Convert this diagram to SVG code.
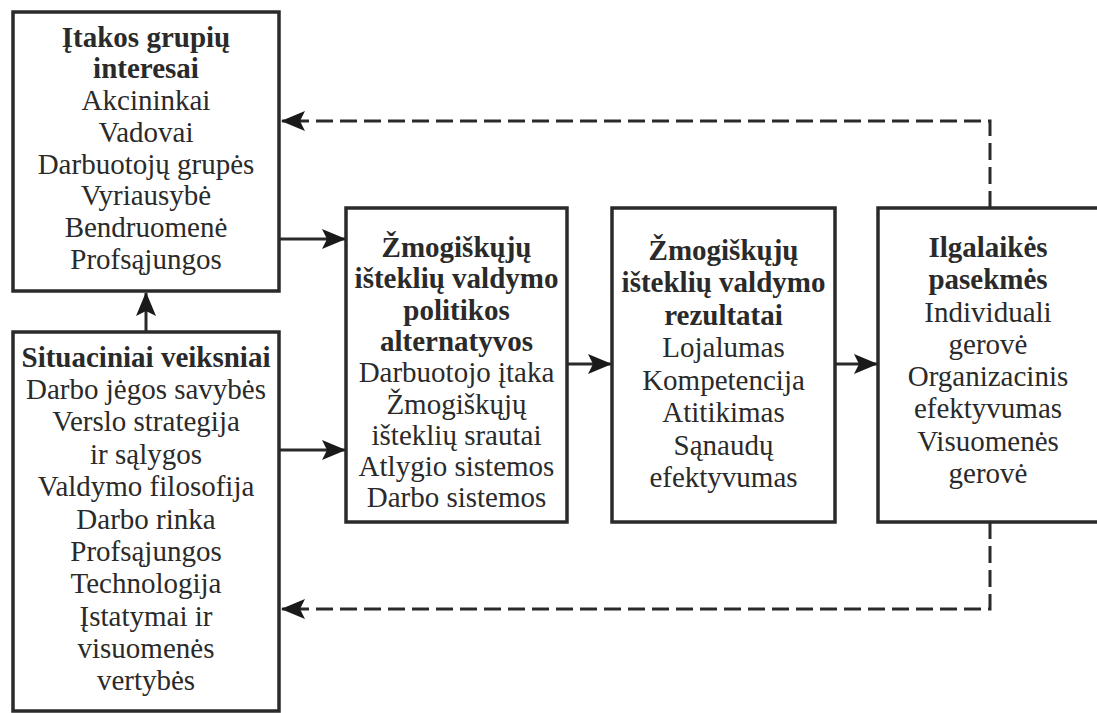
<svg xmlns="http://www.w3.org/2000/svg" width="1097" height="713" viewBox="0 0 1097 713">
<style>
.box{fill:#fff;stroke:#2a2a2a;stroke-width:3.5}
text{font-family:"Liberation Serif","Times New Roman",serif;font-size:29px;fill:#2a2a2a;text-anchor:middle}
.b{font-weight:bold}
.c{fill:none;stroke:#2a2a2a;stroke-width:3}
.d{stroke-dasharray:17 7}
</style>
<defs>
<marker id="ah" markerUnits="userSpaceOnUse" markerWidth="26" markerHeight="22" refX="23" refY="10" orient="auto">
<path d="M0,0 L24,10 L0,20 L5,10 z" fill="#1a1a1a"/>
</marker>
</defs>
<g id="connectors">
<path class="c" d="M146,332 L146,293" marker-end="url(#ah)"/>
<path class="c" d="M279,239 L345,239" marker-end="url(#ah)"/>
<path class="c" d="M279,450 L345,450" marker-end="url(#ah)"/>
<path class="c" d="M567,364 L611,364" marker-end="url(#ah)"/>
<path class="c" d="M835,364 L877,364" marker-end="url(#ah)"/>
<path class="c d" d="M990,208 L990,121 L282,121" marker-end="url(#ah)"/>
<path class="c d" d="M990,522 L990,609 L282,609" marker-end="url(#ah)"/>
</g>
<g id="influence">
<rect class="box" x="13" y="12" width="266" height="279"/>
<text class="b" x="146" y="47">Įtakos grupių</text>
<text class="b" x="146" y="78">interesai</text>
<text x="146" y="110">Akcininkai</text>
<text x="146" y="142">Vadovai</text>
<text x="146" y="174">Darbuotojų grupės</text>
<text x="146" y="205">Vyriausybė</text>
<text x="146" y="237">Bendruomenė</text>
<text x="146" y="269">Profsąjungos</text>
</g>
<g id="situational">
<rect class="box" x="13" y="332" width="266" height="379"/>
<text class="b" x="146" y="367">Situaciniai veiksniai</text>
<text x="146" y="399">Darbo jėgos savybės</text>
<text x="146" y="431">Verslo strategija</text>
<text x="146" y="464">ir sąlygos</text>
<text x="146" y="496">Valdymo filosofija</text>
<text x="146" y="529">Darbo rinka</text>
<text x="146" y="561">Profsąjungos</text>
<text x="146" y="593">Technologija</text>
<text x="146" y="626">Įstatymai ir</text>
<text x="146" y="658">visuomenės</text>
<text x="146" y="690">vertybės</text>
</g>
<g id="policy">
<rect class="box" x="346" y="208" width="221" height="314"/>
<text class="b" x="456.5" y="257">Žmogiškųjų</text>
<text class="b" x="456.5" y="288">išteklių valdymo</text>
<text class="b" x="456.5" y="320">politikos</text>
<text class="b" x="456.5" y="351">alternatyvos</text>
<text x="456.5" y="382">Darbuotojo įtaka</text>
<text x="456.5" y="414">Žmogiškųjų</text>
<text x="456.5" y="445">išteklių srautai</text>
<text x="456.5" y="476">Atlygio sistemos</text>
<text x="456.5" y="507">Darbo sistemos</text>
</g>
<g id="results">
<rect class="box" x="612" y="208" width="223" height="314"/>
<text class="b" x="723.5" y="260">Žmogiškųjų</text>
<text class="b" x="723.5" y="292">išteklių valdymo</text>
<text class="b" x="723.5" y="325">rezultatai</text>
<text x="723.5" y="357">Lojalumas</text>
<text x="723.5" y="390">Kompetencija</text>
<text x="723.5" y="422">Atitikimas</text>
<text x="723.5" y="455">Sąnaudų</text>
<text x="723.5" y="487">efektyvumas</text>
</g>
<g id="consequences">
<rect class="box" x="878" y="208" width="230" height="314"/>
<text class="b" x="988" y="257">Ilgalaikės</text>
<text class="b" x="988" y="289">pasekmės</text>
<text x="988" y="322">Individuali</text>
<text x="988" y="354">gerovė</text>
<text x="988" y="386">Organizacinis</text>
<text x="988" y="418">efektyvumas</text>
<text x="988" y="451">Visuomenės</text>
<text x="988" y="483">gerovė</text>
</g>
</svg>
